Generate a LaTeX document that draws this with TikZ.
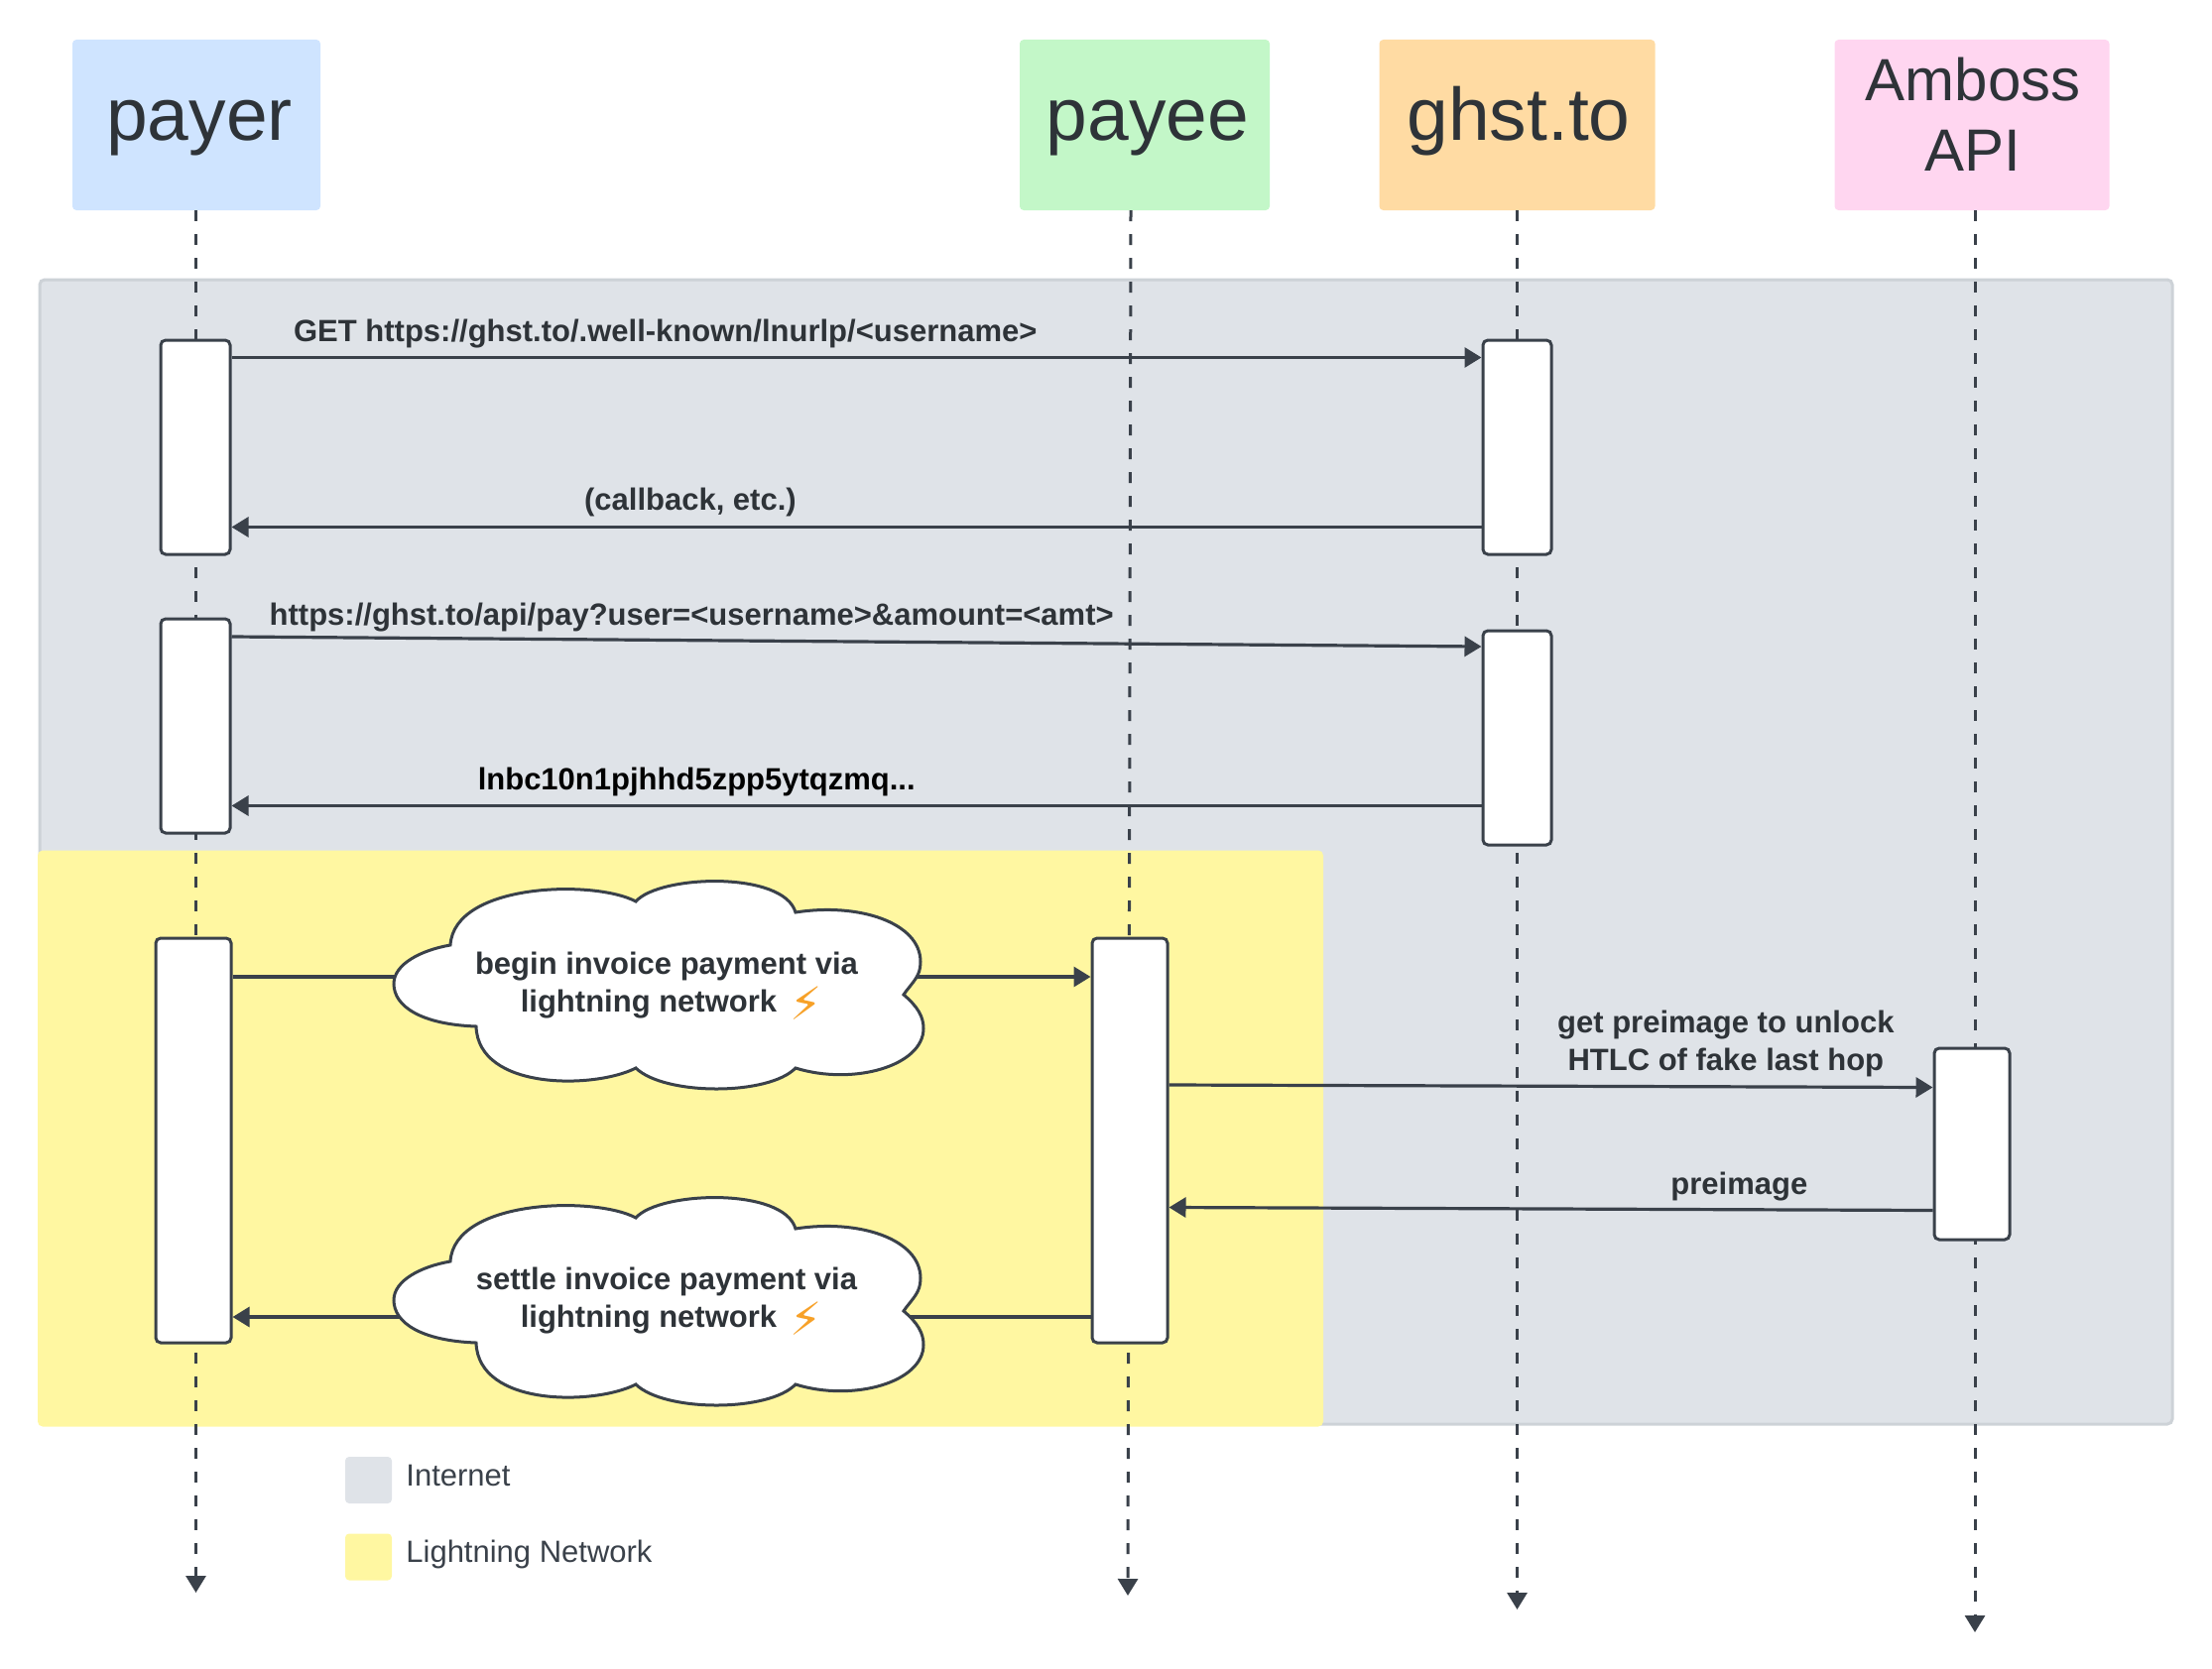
\documentclass[tikz,border=0pt]{standalone}
\usepackage{fontspec}
\setmainfont{Liberation Sans}
\newfontfamily\boltfont{DejaVu Sans}
\usetikzlibrary{positioning,arrows.meta}
\definecolor{inkcol}{HTML}{3A414A}
\definecolor{textcol}{HTML}{2E3338}
\definecolor{netcol}{HTML}{DFE3E8}
\definecolor{netedge}{HTML}{CDD2D7}
\definecolor{lncol}{HTML}{FFF7A1}
\definecolor{boltcol}{HTML}{F7A128}
\definecolor{payercol}{HTML}{CFE4FF}
\definecolor{payeecol}{HTML}{C3F7C8}
\definecolor{ghstcol}{HTML}{FFDBA3}
\definecolor{ambosscol}{HTML}{FFD6F0}
\newcommand{\boltmark}{\smash{\raisebox{-8pt}{\fontsize{46}{46}\boltfont\textcolor{boltcol}{⚡}}}}
\begin{document}
\begin{tikzpicture}[x=1pt, y=-1pt,
					header/.style = {rounded corners=4pt, text=textcol, align=center, inner sep=0pt, minimum height=172pt},
					bigname/.style = {header, font=\fontsize{75}{80}\selectfont, text height=50pt, text depth=18pt},
					region/.style = {rounded corners=5pt, inner sep=0pt},
					activation/.style = {draw=inkcol, fill=white, line width=3pt, rounded corners=5pt, inner sep=0pt},
					lifeline/.style = {draw=inkcol, line width=3pt, dash pattern=on 11pt off 13pt, -{Triangle[length=17pt,width=20pt]}},
					message/.style = {draw=inkcol, line width=3.2pt, -{Triangle[length=17pt,width=20pt]}},
					msglabel/.style = {font=\fontsize{31}{38}\selectfont\bfseries, text=textcol, inner sep=0pt},
					oneline/.style = {msglabel, text height=23pt, text depth=7pt},
					swatch/.style = {rounded corners=4pt, minimum size=47pt, inner sep=0pt},
					legendlabel/.style = {font=\fontsize{31}{38}\selectfont, text=inkcol, inner sep=0pt},
					invoicecloud/.pic = {\draw[draw=inkcol, fill=white, line width=3pt]
						(-186,-47) .. controls (-182,-110) and (-40,-113) .. (1,-91)
						.. controls (25,-118) and (150,-122) .. (162,-80)
						.. controls (225,-90) and (288,-70) .. (288,-30)
						.. controls (288,-15) and (280,-10) .. (271,3)
						.. controls (285,15) and (291,25) .. (291,37)
						.. controls (291,75) and (220,95) .. (162,77)
						.. controls (135,105) and (30,105) .. (1,77)
						.. controls (-40,98) and (-158,100) .. (-160,35)
						.. controls (-215,33) and (-243,15) .. (-243,-8)
						.. controls (-243,-28) and (-215,-42) .. (-186,-47) -- cycle;}
				]
				\useasboundingbox (0,0) rectangle (2230,1683);
				\node[region, fill=netcol, draw=netedge, line width=3pt, minimum width=2150pt, minimum height=1154pt] (internet) at (1115,859) {};
				\node[region, fill=lncol, minimum width=1296pt, minimum height=581pt] (lightning) at (686,1148) {};

				\node[bigname, fill=payercol, minimum width=250pt] (payer) at (198,126) {\hspace*{6pt}payer};
				\node[bigname, fill=payeecol, minimum width=252pt] (payee) at (1154,126) {\hspace*{6pt}payee};
				\node[bigname, fill=ghstcol, minimum width=278pt] (ghst) at (1529.5,126) {\hspace*{3pt}ghst.to};
				\node[header, fill=ambosscol, minimum width=277pt, font=\fontsize{60}{71}\selectfont, text depth=22pt] (amboss) at (1988,126) {\hspace*{2pt}Amboss\\\hspace*{2pt}API};

				\coordinate (payerEnd) at (197.5,1606);
				\coordinate (payeeEnd) at (1137,1609);
				\coordinate (ghstEnd) at (1529.5,1623);
				\coordinate (ambossEnd) at (1991,1646);
				\draw[lifeline] ([xshift=-0.5pt]payer.south) -- (payerEnd);
				\draw[lifeline] ([xshift=-14pt]payee.south) -- (payeeEnd);
				\draw[lifeline] (ghst.south) -- (ghstEnd);
				\draw[lifeline] ([xshift=3pt]amboss.south) -- (ambossEnd);

				\node[activation, minimum width=70pt, minimum height=216pt] (payerA) at (197,451) {};
				\node[activation, minimum width=69pt, minimum height=216pt] (ghstA) at (1529.5,451) {};
				\node[activation, minimum width=70pt, minimum height=216pt] (payerB) at (197,732) {};
				\node[activation, minimum width=69pt, minimum height=216pt] (ghstB) at (1529.5,744) {};
				\node[activation, minimum width=76pt, minimum height=408pt] (payerC) at (195,1150) {};
				\node[activation, minimum width=76pt, minimum height=408pt] (payeeC) at (1139,1150) {};
				\node[activation, minimum width=76pt, minimum height=193pt] (ambossC) at (1988,1153.5) {};

				\draw[message] ([yshift=-19pt]payerA.north east) -- node[oneline, pos=0.347, above=7pt] (getlabel) {GET https://ghst.to/.well-known/lnurlp/<username>} ([yshift=-19pt]ghstA.north west);
				\draw[message] ([yshift=-190pt]ghstA.north west) -- node[oneline, pos=0.633, above=8pt] (callbacklabel) {(callback, etc.)} ([yshift=-190pt]payerA.north east);
				\draw[message] ([yshift=-19.5pt]payerB.north east) -- node[oneline, pos=0.368, above=7pt] (paylabel) {https://ghst.to/api/pay?user=<username>\&amount=<amt>} ([yshift=-17.5pt]ghstB.north west);
				\draw[message] ([yshift=-178pt]ghstB.north west) -- node[oneline, pos=0.628, above=7pt, text=black] (invoicelabel) {lnbc10n1pjhhd5zpp5ytqzmq...} ([yshift=-190pt]payerB.north east);
				\draw[message] ([yshift=-40.5pt]payerC.north east) -- ([yshift=-40.5pt]payeeC.north west);
				\draw[message] ([yshift=-149.5pt]payeeC.north east) -- node[msglabel, align=center, pos=0.729, above=8pt] (unlocklabel) {get preimage to unlock\\HTLC of fake last hop} ([yshift=-41pt]ambossC.north west);
				\draw[message] ([yshift=-165pt]ambossC.north west) -- node[oneline, pos=0.2535, above=7pt] (preimagelabel) {preimage} ([yshift=-273pt]payeeC.north east);
				\draw[message] ([yshift=-383.5pt]payeeC.north west) -- ([yshift=-383.5pt]payerC.north east);

				\path (640,1000) pic {invoicecloud};
				\path (640,1319) pic {invoicecloud};
				\node[msglabel, align=center] (beginlabel) at (672,994) {begin invoice payment via\\\hspace*{10pt}lightning network \,\boltmark};
				\node[msglabel, align=center] (settlelabel) at (672,1312) {settle invoice payment via\\\hspace*{10pt}lightning network \,\boltmark};

				\node[swatch, fill=netcol] (internetkey) at (371.5,1492.5) {};
				\node[swatch, fill=lncol] (lightningkey) at (371.5,1570) {};
				\node[legendlabel, right=14pt of internetkey, yshift=4.5pt] (internettext) {Internet};
				\node[legendlabel, right=14pt of lightningkey, yshift=2.7pt] (lightningtext) {Lightning Network};
			\end{tikzpicture}
\end{document}
